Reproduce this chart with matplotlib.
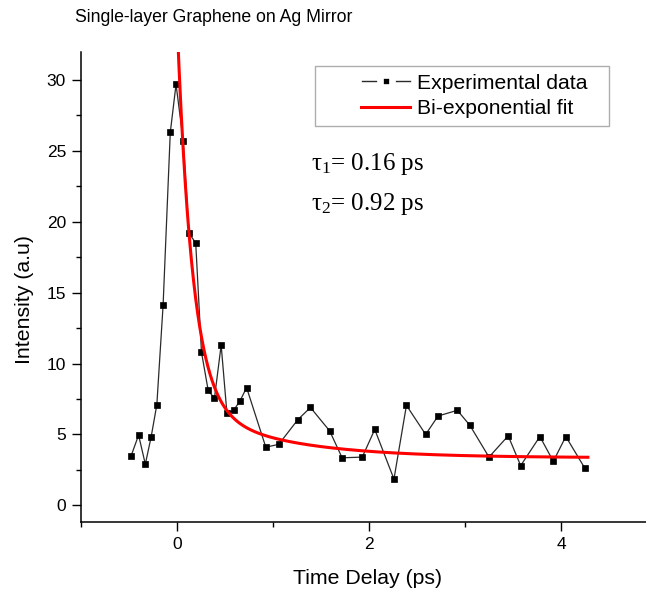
import numpy as np
import matplotlib
matplotlib.use("Agg")
import matplotlib.pyplot as plt
from matplotlib.ticker import MultipleLocator
from matplotlib.legend_handler import HandlerLine2D

delay_ps = [-0.48, -0.40, -0.33, -0.27, -0.21, -0.145, -0.07, -0.01, 0.065,
            0.125, 0.195, 0.255, 0.325, 0.39, 0.46, 0.52, 0.59, 0.655, 0.725,
            0.925, 1.06, 1.26, 1.39, 1.59, 1.72, 1.93, 2.06, 2.26, 2.39, 2.59,
            2.72, 2.92, 3.05, 3.25, 3.45, 3.58, 3.78, 3.92, 4.05, 4.25]
intensity = [3.45, 4.95, 2.9, 4.8, 7.1, 14.1, 26.3, 29.7, 25.7,
             19.2, 18.5, 10.8, 8.1, 7.55, 11.3, 6.5, 6.7, 7.35, 8.3,
             4.1, 4.3, 6.05, 6.9, 5.25, 3.35, 3.4, 5.35, 1.85, 7.05, 5.0,
             6.3, 6.7, 5.65, 3.4, 4.9, 2.8, 4.85, 3.1, 4.85, 2.6]

# Bi-exponential fit parameters
fit_y0 = 3.35
fit_A1 = 26.9
fit_tau1 = 0.16
fit_A2 = 4.03
fit_tau2 = 0.92
fit_range = (0.0, 4.28)

x_ticks = [0, 2, 4]
y_ticks = [0, 5, 10, 15, 20, 25, 30]

title_text = "Single-layer Graphene on Ag Mirror"
xlabel_text = "Time Delay (ps)"
ylabel_text = "Intensity (a.u)"
legend_labels = ["Experimental data", "Bi-exponential fit"]
tau_texts = [r'$\mathrm{\tau}_1$= 0.16 ps', r'$\mathrm{\tau}_2$= 0.92 ps']

plt.rcParams['font.family'] = ['Liberation Sans', 'DejaVu Sans']
plt.rcParams['mathtext.fontset'] = 'custom'
plt.rcParams['mathtext.rm'] = 'Liberation Serif'
plt.rcParams['mathtext.it'] = 'Liberation Serif:italic'
plt.rcParams['mathtext.bf'] = 'Liberation Serif:bold'

W, H = 646, 589
fig = plt.figure(figsize=(W/100, H/100), dpi=100)
ax_l, ax_r, ax_t, ax_b = 81, 657, 51.7, 522.3
ax = fig.add_axes([ax_l/W, (H-ax_b)/H, (ax_r-ax_l)/W, (ax_b-ax_t)/H])

ax.plot(delay_ps, intensity, color='#2a2a2a', lw=0.9, marker='s', ms=4.3,
        mfc='black', mec='black', mew=0.5, label=legend_labels[0], zorder=2)

xf = np.linspace(fit_range[0], fit_range[1], 600)
yf = fit_y0 + fit_A1*np.exp(-xf/fit_tau1) + fit_A2*np.exp(-xf/fit_tau2)
ax.plot(xf, yf, color='#ff0000', lw=2.2, label=legend_labels[1], zorder=3)

ax.set_xlim(-1, 5)
ax.set_ylim(-1.2, 32.0)
ax.set_xticks(x_ticks)
ax.set_yticks(y_ticks)
ax.xaxis.set_minor_locator(MultipleLocator(1))
ax.yaxis.set_minor_locator(MultipleLocator(2.5))
ax.spines['top'].set_visible(False)
ax.spines['right'].set_visible(False)
ax.spines['left'].set_linewidth(1.1)
ax.spines['bottom'].set_linewidth(1.1)
ax.tick_params(which='major', direction='out', length=6.5, width=1.0, labelsize=12.5, pad=4.3)
ax.tick_params(which='minor', direction='out', length=3.3, width=1.0)

ax.set_xlabel(xlabel_text, fontsize=15.3, ha='center', va='center')
ax.xaxis.set_label_coords((368-ax_l)/(ax_r-ax_l), (ax_b-578)/(ax_b-ax_t))
ax.set_ylabel(ylabel_text, fontsize=15.3, ha='center', va='center')
ax.yaxis.set_label_coords((24-ax_l)/(ax_r-ax_l), (ax_b-300)/(ax_b-ax_t))

fig.text(75/W, 1-17/H, title_text, fontsize=12.7, ha='left', va='center')


class OffsetLineHandler(HandlerLine2D):
    def __init__(self, offset_pts, gap_marker=False, **kw):
        super().__init__(**kw)
        self.offset = offset_pts
        self.gap_marker = gap_marker

    def create_artists(self, legend, orig_handle, xdescent, ydescent, width,
                       height, fontsize, trans):
        arts = super().create_artists(legend, orig_handle, xdescent - self.offset,
                                      ydescent, width - self.offset, height,
                                      fontsize, trans)
        if self.gap_marker:
            for a in arts:
                a.set_markersize(8.2)
                a.set_markeredgewidth(4.8)
                a.set_markeredgecolor('white')
                a.set_markerfacecolor('black')
                a.set_linewidth(1.0)
        return arts


lines = ax.get_lines()
leg_fs = 15.2
fs_px = leg_fs * 100 / 72
bpad = 0.36
handle_start = 315 + bpad * fs_px
leg = ax.legend(lines, legend_labels, loc='upper left', mode='expand',
                bbox_to_anchor=(315/W, (H-125)/H, (609-315)/W, 59/H),
                bbox_transform=fig.transFigure,
                fontsize=leg_fs, frameon=True, fancybox=False, edgecolor='#999999',
                handlelength=(410-handle_start)/fs_px, borderpad=bpad,
                labelspacing=0.3, handletextpad=7/fs_px, numpoints=1,
                borderaxespad=0,
                handler_map={lines[0]: OffsetLineHandler((362-handle_start)*0.72, gap_marker=True),
                             lines[1]: OffsetLineHandler((361-handle_start)*0.72)})
leg.get_frame().set_linewidth(1.0)

fig.text(311/W, 1-170/H, tau_texts[0], fontsize=18, ha='left', va='baseline',
         family=['Liberation Serif', 'DejaVu Serif'])
fig.text(311/W, 1-210/H, tau_texts[1], fontsize=18, ha='left', va='baseline',
         family=['Liberation Serif', 'DejaVu Serif'])

fig.savefig('out.png', dpi=100)
